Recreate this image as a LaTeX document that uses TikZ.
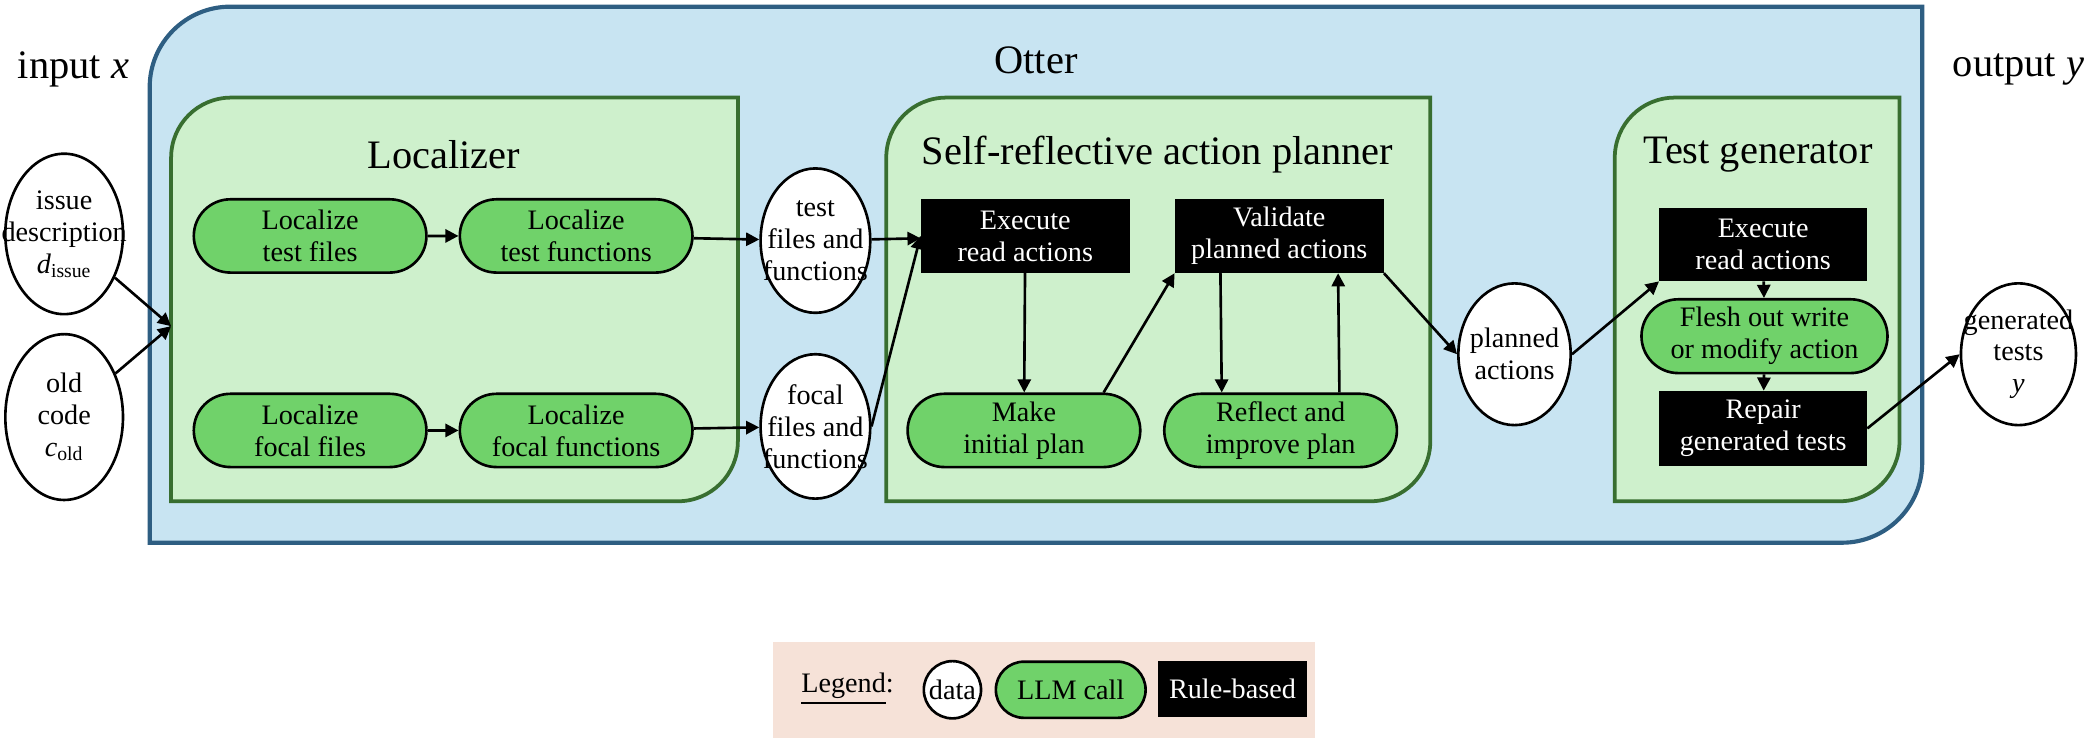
\documentclass[tikz,border=0pt]{standalone}
\usepackage{fontspec}
\setmainfont{Liberation Serif}
\usepackage{xcolor}
\definecolor{clOuter}{HTML}{C8E4F2}
\definecolor{clOuterLine}{HTML}{2E5E82}
\definecolor{clStage}{HTML}{CEF0CC}
\definecolor{clStageLine}{HTML}{386E30}
\definecolor{clLLM}{HTML}{70D26A}
\definecolor{clLegend}{HTML}{F6E2D8}
\usetikzlibrary{arrows.meta,positioning,calc,shapes.geometric,shapes.misc}
\newcommand{\stagebox}[4]{\draw[stage] (#1,#4) -- (#1,#2+45) .. controls (#1,#2+20) and (#1+20,#2) .. (#1+45,#2) -- (#3,#2) -- (#3,#4-45) .. controls (#3,#4-20) and (#3-20,#4) .. (#3-45,#4) -- cycle;}
\newcommand{\thickul}[1]{\leavevmode\vtop{\hbox{#1}\kern1.5pt\hrule height1.2pt}}

\begin{document}
\begin{tikzpicture}[x=0.025cm,y=-0.025cm,
  every node/.style={font=\fontsize{15}{17}\selectfont, align=center},
  title/.style={font=\fontsize{21.5}{25}\selectfont},
  stage/.style={draw=clStageLine, fill=clStage, line width=2pt},
  data/.style={ellipse, draw, fill=white, line width=1.4pt, inner xsep=-0.5cm, inner ysep=-0.1cm},
  llm/.style={rounded rectangle, draw, fill=clLLM, line width=1.4pt, minimum width=4.35cm, minimum height=1.37cm, inner sep=0pt},
  rule/.style={rectangle, fill=black, text=white, minimum width=3.9cm, minimum height=1.38cm, inner sep=0pt},
  flow/.style={line width=1.4pt, -{Triangle[length=7pt,width=7pt]}}]
  \useasboundingbox (0,0) rectangle (1568,554);
  \draw[clOuterLine, fill=clOuter, line width=2.2pt] (112,406) -- (112,65) .. controls (112,32) and (139,5) .. (172,5) -- (1438,5) -- (1438,346) .. controls (1438,379) and (1411,406) .. (1378,406) -- cycle;
  \stagebox{128}{73}{552}{375} \stagebox{663}{73}{1070}{375} \stagebox{1208}{73}{1421}{375}
  \node[title] (inx) at (55,52) {input \textit{x}};
  \node[title] (outy) at (1510,52) {output \textit{y}};
  \node[title] (otter) at (775,45) {Otter};
  \node[title] (loctitle) at (332,116) {Localizer};
  \node[title] (plantitle) at (866,116) {Self-reflective action planner};
  \node[title] (gentitle) at (1315,116) {Test generator};
  % inputs
  \node[data, minimum width=2.2cm, minimum height=3.0cm] (issue) at (48,175) {issue\\description\\\textit{d}\textsubscript{issue}};
  \node[data, minimum width=2.2cm, minimum height=3.1cm] (oldcode) at (48,312) {old\\code\\\textit{c}\textsubscript{old}};
  \coordinate (locin) at (128,244);
  % localizer
  \node[llm] (loctf) at (232,176.5) {Localize\\test files};
  \node[llm] (loctfn) at (431,176.5) {Localize\\test functions};
  \node[llm] (locff) at (232,322) {Localize\\focal files};
  \node[llm] (locffn) at (431,322) {Localize\\focal functions};
  \node[data, minimum width=2.05cm, minimum height=2.7cm] (testdata) at (610,180) {test\\files and\\functions};
  \node[data, minimum width=2.05cm, minimum height=2.7cm] (focaldata) at (610,319) {focal\\files and\\functions};
  % planner
  \node[rule] (readP) at (767,176.5) {Execute\\read actions};
  \node[rule] (validate) at (957,176.5) {Validate\\planned actions};
  \node[llm] (initplan) at (766,322) {Make\\initial plan};
  \node[llm] (reflect) at (958,322) {Reflect and\\improve plan};
  \node[data, minimum width=2.1cm, minimum height=2.65cm] (planned) at (1133,265) {planned\\actions};
  % test generator
  \node[rule, minimum width=3.88cm, minimum height=1.36cm] (readT) at (1319,183) {Execute\\read actions};
  \node[llm, minimum width=4.6cm, minimum height=1.38cm] (flesh) at (1320,251.5) {Flesh out write\\or modify action};
  \node[rule, minimum width=3.88cm, minimum height=1.4cm] (repair) at (1319,320.5) {Repair\\generated tests};
  \node[data, minimum width=2.15cm, minimum height=2.65cm] (gentests) at (1510,265) {generated\\tests\\\textit{y}};
  % legend
  \fill[clLegend] (578,480) rectangle (984,552);
  \node (legend) at (634,515) {\thickul{Legend}:};
  \node[data, minimum width=1.07cm, minimum height=1.07cm] (legdata) at (712.5,516) {data};
  \node[llm, minimum width=2.8cm, minimum height=1.05cm] (legllm) at (801,516) {LLM call};
  \node[rule, minimum width=2.8cm, minimum height=1.05cm] (legrule) at (922,515.5) {Rule-based};
  % connectors
  \draw[flow] (issue) -- (locin);
  \draw[flow] (oldcode) -- (locin);
  \draw[flow] (loctf) -- (loctfn);
  \draw[flow] (locff) -- (locffn);
  \draw[flow] (loctfn) -- (testdata);
  \draw[flow] (locffn) -- (focaldata);
  \draw[flow] (testdata) -- (readP);
  \draw[flow] (focaldata.east) -- (readP.west);
  \draw[flow] (readP) -- (initplan);
  \draw[flow] (initplan.north east) -- (validate.south west);
  \draw[flow] ([xshift=-1.1cm]validate.south) -- ([xshift=-1.1cm]reflect.north);
  \draw[flow] ([xshift=1.1cm]reflect.north) -- ([xshift=1.1cm]validate.south);
  \draw[flow] (validate.south east) -- (planned.west);
  \draw[flow] (planned.east) -- (readT.south west);
  \draw[flow] (readT) -- (flesh);
  \draw[flow] (flesh) -- (repair);
  \draw[flow] (repair.east) -- (gentests.west);
\end{tikzpicture}
\end{document}
